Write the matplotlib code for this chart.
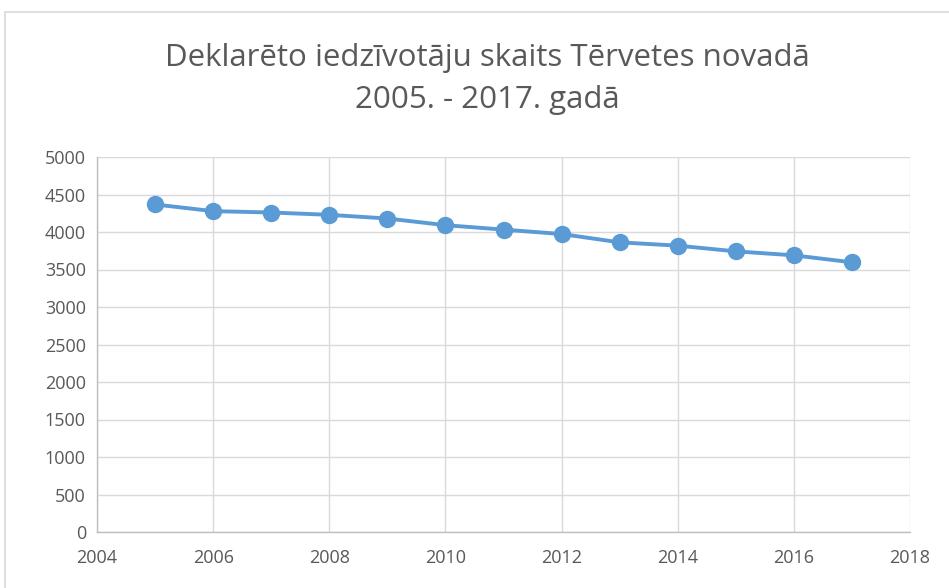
import matplotlib
matplotlib.use("Agg")
import matplotlib.pyplot as plt
from matplotlib.patches import Rectangle

years = [2005, 2006, 2007, 2008, 2009, 2010, 2011, 2012, 2013, 2014, 2015, 2016, 2017]
residents = [4367, 4278, 4260, 4229, 4180, 4091, 4032, 3973, 3862, 3818, 3742, 3689, 3596]
x_ticks = [2004, 2006, 2008, 2010, 2012, 2014, 2016, 2018]
y_ticks = [0, 500, 1000, 1500, 2000, 2500, 3000, 3500, 4000, 4500, 5000]
title = "Deklarēto iedzīvotāju skaits Tērvetes novadā\n2005. - 2017. gadā"

plt.rcParams['font.family'] = ['Open Sans', 'DejaVu Sans']

fig = plt.figure(figsize=(9.49, 5.88), dpi=100)
fig.patches.append(Rectangle((5/949, -0.01), 1.0, 1 - 12/588 + 0.01, transform=fig.transFigure,
                             fill=False, edgecolor='#D9D9D9', linewidth=1.2))

ax = fig.add_axes([97/949, 56/588, (910-97)/949, (532-157)/588])
ax.plot(years, residents, color='#5B9BD5', linewidth=2.8, marker='o', markersize=11.5,
        markeredgecolor='#5B9BD5', markerfacecolor='#5B9BD5', zorder=3, clip_on=False)

ax.set_xlim(2004, 2018)
ax.set_ylim(0, 5000)
ax.set_xticks(x_ticks)
ax.set_yticks(y_ticks)
ax.grid(True, color='#D9D9D9', linewidth=1.0)
ax.set_axisbelow(True)
for s in ['top', 'right']:
    ax.spines[s].set_visible(False)
for s in ['left', 'bottom']:
    ax.spines[s].set_color('#BFBFBF')
    ax.spines[s].set_linewidth(1.0)
ax.tick_params(axis='both', length=0, labelsize=13, labelcolor='#595959', pad=8)
ax.tick_params(axis='x', pad=12)

fig.text(487/949, 1 - 79/588, title, ha='center', va='center', fontsize=22.5,
         color='#595959', linespacing=1.5)

fig.savefig("out.png", dpi=100)
